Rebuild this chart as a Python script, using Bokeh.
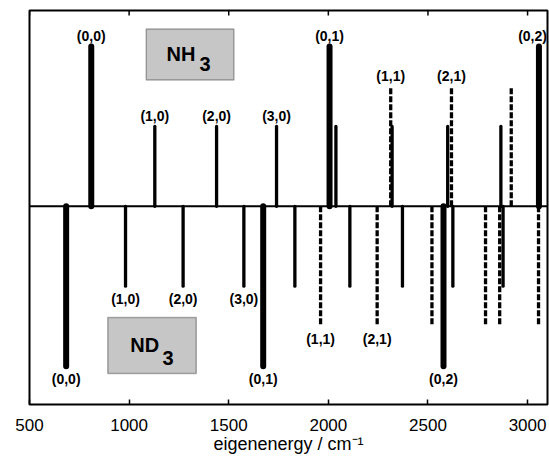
from bokeh.plotting import figure
from bokeh.models import (ColumnDataSource, Span, BoxAnnotation, Label,
                          FixedTicker, Range1d)
from bokeh.core.properties import value
from bokeh.embed import file_html
from bokeh.resources import INLINE

# ---- data (eigenenergies in cm^-1, relative intensities) ----
nh3_energy = [810, 1129, 1439, 1740, 2006, 2038, 2313, 2320, 2599, 2618, 2866, 2918, 3057]
nh3_intensity = [1.0, 0.5, 0.5, 0.5, 1.0, 0.5, 0.75, 0.5, 0.5, 0.75, 0.5, 0.75, 1.0]
nh3_kind = ["thick", "medium", "medium", "medium", "thick", "medium", "dashed", "medium",
            "medium", "dashed", "medium", "dashed", "thick"]
nh3_label = ["(0,0)", "(1,0)", "(2,0)", "(3,0)", "(0,1)", "", "(1,1)", "", "", "(2,1)", "", "", "(0,2)"]

nd3_energy = [684, 982, 1271, 1576, 1673, 1832, 1961, 2108, 2245, 2372, 2520, 2578, 2625,
              2789, 2860, 2877, 3055]
nd3_intensity = [1.0, 0.5, 0.5, 0.5, 1.0, 0.5, 0.75, 0.5, 0.75, 0.5, 0.75, 1.0, 0.5,
                 0.75, 0.75, 0.5, 0.75]
nd3_kind = ["thick", "medium", "medium", "medium", "thick", "medium", "dashed", "medium",
            "dashed", "medium", "dashed", "thick", "medium", "dashed", "dashed", "medium", "dashed"]
nd3_label = ["(0,0)", "(1,0)", "(2,0)", "(3,0)", "(0,1)", "", "(1,1)", "", "(2,1)", "", "",
             "(0,2)", "", "", "", "", ""]

x_ticks = [500, 1000, 1500, 2000, 2500, 3000]
X_MIN, X_MAX = 500, 3100
Y_MIN, Y_MAX = -1.24, 1.225

# ---- styles ----
STYLE = {"thick": dict(line_width=6, line_dash="solid", line_cap="round"),
         "medium": dict(line_width=3.3, line_dash="solid", line_cap="round"),
         "dashed": dict(line_width=3.3, line_dash="6 2", line_cap="butt")}
FONT = "Liberation Sans"

p = figure(width=549, height=457, output_backend="svg", toolbar_location=None,
           x_range=Range1d(X_MIN, X_MAX), y_range=Range1d(Y_MIN, Y_MAX),
           y_axis_type=None, min_border_left=29, min_border_right=2,
           min_border_top=10, min_border_bottom=53)
p.xgrid.visible = False
p.ygrid.visible = False
p.outline_line_color = "black"
p.outline_line_width = 2
p.background_fill_color = "white"
p.border_fill_color = "white"

# bottom axis
ax = p.xaxis[0]
ax.ticker = FixedTicker(ticks=x_ticks)
ax.major_tick_in = 5
ax.major_tick_out = 0
ax.minor_tick_out = 0
ax.minor_tick_in = 0
ax.major_tick_line_width = 1.5
ax.minor_tick_line_color = None
ax.axis_line_color = None
ax.major_label_text_font = FONT
ax.major_label_text_font_size = "17px"
ax.major_label_text_color = "black"
ax.major_label_standoff = 14
ax.axis_label = "eigenenergy / cm\u207b\u00b9"
ax.axis_label_text_font = FONT
ax.axis_label_text_font_style = "normal"
ax.axis_label_text_font_size = "18px"
ax.axis_label_text_color = "black"
ax.axis_label_standoff = 0

# top-edge inward ticks (same tick positions as the bottom axis)
tick_len = (Y_MAX - Y_MIN) * 5 / 394
top_src = ColumnDataSource(dict(x=x_ticks, y0=[Y_MAX] * len(x_ticks),
                                y1=[Y_MAX - tick_len] * len(x_ticks)))
p.segment(x0="x", y0="y0", x1="x", y1="y1", source=top_src, line_color="black", line_width=1.5)

# zero line
p.add_layout(Span(location=0, dimension="width", line_color="black", line_width=2))


def draw(energy, intensity, kind, labels, sign, label_offset):
    for k in ["medium", "dashed", "thick"]:
        xs = [e for e, kk in zip(energy, kind) if kk == k]
        ys = [sign * i for i, kk in zip(intensity, kind) if kk == k]
        src = ColumnDataSource(dict(x=xs, y0=[0] * len(xs), y1=ys))
        p.segment(x0="x", y0="y0", x1="x", y1="y1", source=src, line_color="black", **STYLE[k])
    # labels: the one at the right edge is right-aligned so it stays inside the frame
    for align, x_off, cond in [("center", 0, lambda e: e < 3000), ("right", 8, lambda e: e >= 3000)]:
        lx = [e for e, l in zip(energy, labels) if l and cond(e)]
        ly = [sign * i for e, i, l in zip(energy, intensity, labels) if l and cond(e)]
        lt = [l for e, l in zip(energy, labels) if l and cond(e)]
        if not lx:
            continue
        src = ColumnDataSource(dict(x=lx, y=ly, t=lt))
        p.text(x="x", y="y", text="t", source=src, text_align=align, text_baseline="middle",
               x_offset=x_off, y_offset=label_offset, text_font=value(FONT),
               text_font_style="bold", text_font_size="14px", text_color="black")


draw(nh3_energy, nh3_intensity, nh3_kind, nh3_label, 1, -10)
draw(nd3_energy, nd3_intensity, nd3_kind, nd3_label, -1, 13)

# species boxes
p.add_layout(BoxAnnotation(left=1086, right=1526, bottom=0.79, top=1.11,
                           fill_color="#c6c6c6", fill_alpha=1.0,
                           line_color="black", line_width=1.5))
p.add_layout(BoxAnnotation(left=893, right=1337, bottom=-1.046, top=-0.696,
                           fill_color="#c6c6c6", fill_alpha=1.0,
                           line_color="black", line_width=1.5))
for txt, x, y in [("NH", 1260, 0.95), ("3", 1381, 0.8875), ("ND", 1078, -0.869), ("3", 1195, -0.952)]:
    p.add_layout(Label(x=x, y=y, text=txt, text_align="center", text_baseline="middle",
                       text_font=FONT, text_font_style="bold", text_font_size="20px",
                       text_color="black"))

open("out.html", "w").write(file_html(p, INLINE))
